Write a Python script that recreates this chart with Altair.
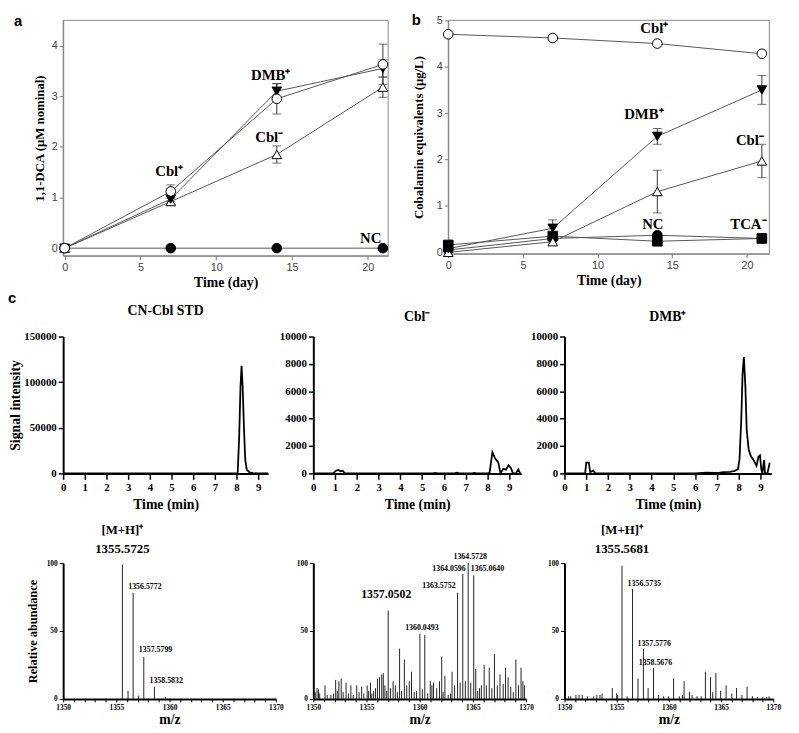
import altair as alt
import pandas as pd

SERIF = "Liberation Serif"
SANS = "Liberation Sans"

# ---------------- data : panel a ----------------
days = [0, 7, 14, 21]
a_nc = [0.0, 0.0, 0.0, 0.0]
a_cbl_minus = [0.0, 0.92, 1.85, 3.18]
a_cbl_minus_err = [0.0, 0.07, 0.17, 0.20]
a_dmb_plus = [0.0, 0.97, 3.10, 3.55]
a_dmb_plus_err = [0.0, 0.05, 0.15, 0.17]
a_cbl_plus = [0.0, 1.12, 2.95, 3.63]
a_cbl_plus_err = [0.0, 0.13, 0.30, 0.40]
a_label_text = ["Cbl\u207a", "DMB\u207a", "Cbl\u207b", "NC"]
a_label_day = [6.9, 13.6, 13.5, 20.2]
a_label_val = [1.52, 3.42, 2.2, 0.2]

# ---------------- data : panel b ----------------
b_nc = [0.05, 0.30, 0.37, 0.30]
b_tca_minus = [0.16, 0.35, 0.24, 0.30]
b_cbl_minus = [0.0, 0.23, 1.31, 1.97]
b_cbl_minus_err = [0.0, 0.03, 0.46, 0.36]
b_dmb_plus = [0.08, 0.52, 2.50, 3.50]
b_dmb_plus_err = [0.0, 0.18, 0.17, 0.31]
b_cbl_plus = [4.70, 4.62, 4.50, 4.28]
b_label_text = ["Cbl\u207a", "DMB\u207a", "Cbl\u207b", "NC", "TCA\u207b"]
b_label_day = [13.8, 13.1, 20.2, 13.7, 20.1]
b_label_val = [4.83, 2.99, 2.43, 0.60, 0.60]

# ---------------- data : chromatograms ----------------
std_t = [0, 7.9, 8.05, 8.12, 8.18, 8.23, 8.28, 8.34, 8.40, 8.47, 8.6, 8.75, 9.0, 9.45]
std_v = [0, 0, 0, 40000, 95000, 118000, 95000, 50000, 15000, 4000, 1200, 300, 0, 0]

cblm_t = [0, 0.9, 1.05, 1.15, 1.25, 1.35, 1.45, 5.5, 5.6, 5.7, 6.5, 6.6, 6.7, 7.3, 7.4, 7.5,
          8.0, 8.1, 8.23, 8.35, 8.5, 8.6, 8.73, 8.85, 8.97, 9.08, 9.17, 9.3, 9.42, 9.5]
cblm_v = [0, 0, 200, 250, 150, 200, 0, 0, 40, 0, 0, 50, 0, 0, 40, 0,
          0, 50, 1550, 1100, 800, 0, 330, 270, 600, 400, 0, 0, 300, 0]

dmb_t = [0, 0.95, 1.0, 1.12, 1.18, 1.25, 1.32, 1.42, 6.0, 6.5, 7.0, 7.3, 7.6, 7.82, 7.97,
         8.04, 8.12, 8.18, 8.24, 8.31, 8.37, 8.46, 8.56, 8.71, 8.82, 8.91, 8.98, 9.04, 9.09,
         9.17, 9.21, 9.32, 9.43]
dmb_v = [0, 0, 790, 790, 100, 150, 200, 0, 0, 50, 30, 100, 120, 190, 310,
         1030, 3900, 7270, 8500, 6300, 3190, 1750, 1270, 910, 550, 1220, 1320, 310, 0,
         980, 0, 0, 790]

# ---------------- data : mass spectra ----------------
s1_mz = [1355.57, 1356.1, 1356.58, 1357.1, 1357.58, 1358.58, 1359.6]
s1_int = [99, 6, 78, 2.5, 31, 9, 1.5]

s2_mz = [1350.18, 1350.35, 1350.49, 1350.6, 1351.1, 1351.3, 1351.65, 1351.9, 1352.1, 1352.25,
         1352.4, 1352.62, 1352.8, 1353.08, 1353.3, 1353.53, 1353.75, 1354.08, 1354.3, 1354.54,
         1354.75, 1355.06, 1355.2, 1355.37, 1355.5, 1355.67, 1355.85, 1356.03, 1356.22, 1356.43,
         1356.58, 1356.73, 1356.9, 1357.04, 1357.25, 1357.5, 1357.71, 1357.9, 1358.11, 1358.3,
         1358.56, 1358.78, 1359.02, 1359.23, 1359.48, 1359.7, 1360.02, 1360.25, 1360.48, 1360.75,
         1361.0, 1361.15, 1361.3, 1361.6, 1361.86, 1362.07, 1362.2, 1362.37, 1362.68, 1362.9,
         1363.04, 1363.28, 1363.56, 1363.8, 1364.05, 1364.29, 1364.56, 1364.8, 1365.08, 1365.27,
         1365.45, 1365.63, 1365.8, 1366.06, 1366.27, 1366.54, 1366.79, 1367.03, 1367.3, 1367.55,
         1367.85, 1368.07, 1368.31, 1368.56, 1368.8, 1369.04, 1369.29, 1369.53, 1369.7, 1369.85]
s2_int = [5, 8, 7, 4, 10, 3, 3, 4, 14, 6,
          13, 15, 5, 12, 4, 10, 3, 10, 5, 9,
          4, 10, 6, 12, 4, 6, 8, 15, 16, 18,
          19, 10, 6, 65, 8, 13, 10, 5, 37, 6,
          29, 10, 13, 20, 5, 6, 48, 7, 47, 4,
          13, 10, 12, 8, 13, 31, 5, 17, 3, 4,
          20, 10, 78, 12, 92, 13, 100, 12, 91, 22,
          6, 8, 10, 25, 10, 23, 8, 33, 10, 18,
          11, 23, 16, 9, 5, 29, 10, 23, 13, 10]

s3_mz = [1350.4, 1350.6, 1351.1, 1351.4, 1351.7, 1352.2, 1352.8, 1353.1, 1353.4, 1353.6,
         1354.58, 1355.0, 1355.1, 1355.51, 1356.0, 1356.52, 1357.04, 1357.56, 1358.01, 1358.53,
         1359.02, 1359.5, 1359.95, 1360.45, 1361.0, 1361.3, 1361.46, 1361.97, 1362.22, 1362.7,
         1363.1, 1363.5, 1363.99, 1364.2, 1364.5, 1364.96, 1365.48, 1366.03, 1366.48, 1367.0,
         1367.49, 1368.0, 1368.47, 1369.0, 1369.38, 1369.6]
s3_int = [2, 2, 3, 3, 3, 2, 2, 3, 3, 4,
          8, 4, 3, 98, 2, 81, 15, 37, 8, 23,
          3, 2, 2, 15, 2, 3, 13, 5, 3, 2,
          2, 20, 16, 5, 19, 6, 10, 4, 8, 3,
          9, 2, 1.5, 1.5, 1.5, 2]

# ---------------- helpers ----------------
def box_layer(x1, x2, y1, y2):
    # invisible layout box that fixes each panel's footprint in the grid
    return alt.Chart(pd.DataFrame({"k": [0]})).mark_rect(opacity=0).encode(
        x=alt.value(x1), x2=alt.value(x2), y=alt.value(y1), y2=alt.value(y2))


def frame_layer(w, h):
    return alt.Chart(pd.DataFrame({"k": [0]})).mark_rect(
        fillOpacity=0, stroke="#888", strokeWidth=1).encode(
        x=alt.value(0), x2=alt.value(w), y=alt.value(0), y2=alt.value(h))


def pix_text(txt, x, y, font, size, align="left", baseline="top"):
    return alt.Chart(pd.DataFrame({"t": [txt]})).mark_text(
        align=align, baseline=baseline, font=font, fontWeight="bold", fontSize=size, color="black"
    ).encode(text="t:N", x=alt.value(x), y=alt.value(y))


SHAPE_DOM = ["Cbl+", "DMB+", "Cbl-", "NC", "TCA-"]
SHAPE_RNG = ["circle", "triangle-down", "triangle-up", "circle", "square"]
FILL_RNG = ["white", "black", "white", "black", "black"]


def growth_panel(series, lab, xdom, ydom, yvals, w, h, ytitle, ytpad, box, letter, lxy):
    rows = []
    for name, vals, errs in series:
        for d, v, e in zip(days, vals, errs):
            rows.append(dict(series=name, day=d, value=v, lo=v - e, hi=v + e, err=e))
    df = pd.DataFrame(rows)
    ldf = pd.DataFrame({"label": lab[0], "day": lab[1], "value": lab[2]})
    xs = alt.Scale(domain=xdom, nice=False, zero=False)
    ys = alt.Scale(domain=ydom, nice=False, zero=False)
    xax = alt.Axis(values=[0, 5, 10, 15, 20], title="Time (day)", titleFont=SERIF, titleFontSize=14,
                   titleFontWeight="bold", titleColor="black", titlePadding=3, labelFont=SANS,
                   labelFontSize=11, labelColor="#444", labelPadding=2, tickSize=4, tickColor="#777",
                   domainColor="#777", grid=False, labelFlush=False, labelOverlap=False)
    yax = alt.Axis(values=yvals, title=ytitle, titleFont=SERIF, titleFontSize=13,
                   titleFontWeight="bold", titleColor="black", titlePadding=ytpad, labelFont=SANS,
                   labelFontSize=11, labelColor="#444", labelPadding=2, tickSize=4, tickColor="#777",
                   domainColor="#777", grid=False, labelFlush=False, labelOverlap=False)

    def X(f):
        return alt.X(f + ":Q", scale=xs, axis=xax)

    def Y(f):
        return alt.Y(f + ":Q", scale=ys, axis=yax)

    base = alt.Chart(df)
    lines = base.mark_line(color="#555", strokeWidth=1).encode(x=X("day"), y=Y("value"), detail="series:N")
    eb = base.transform_filter("datum.err > 0")
    rules = eb.mark_rule(color="#333", strokeWidth=1).encode(x=X("day"), y=Y("lo"), y2="hi:Q")
    cap_hi = eb.mark_tick(orient="horizontal", size=9, thickness=1, color="#333").encode(x=X("day"), y=Y("hi"))
    cap_lo = eb.mark_tick(orient="horizontal", size=9, thickness=1, color="#333").encode(x=X("day"), y=Y("lo"))
    pts = base.mark_point(filled=True, stroke="black", strokeWidth=1, opacity=1, size=95).encode(
        x=X("day"), y=Y("value"),
        shape=alt.Shape("series:N", scale=alt.Scale(domain=SHAPE_DOM, range=SHAPE_RNG), legend=None),
        fill=alt.Fill("series:N", scale=alt.Scale(domain=SHAPE_DOM, range=FILL_RNG), legend=None))
    labels = alt.Chart(ldf).mark_text(font=SERIF, fontSize=15, fontWeight="bold", color="black").encode(
        x=X("day"), y=Y("value"), text="label:N")
    return alt.layer(box_layer(*box), frame_layer(w, h), lines, rules, cap_hi, cap_lo, pts, labels,
                     pix_text(letter, lxy[0], lxy[1], SANS, 15)).properties(width=w, height=h)


def chrom_panel(t, v, xmax, ymax, yvals, w, h, title, toff, ytitle, box, letter=None):
    df = pd.DataFrame({"t": t, "v": v})
    xs = alt.Scale(domain=[0, xmax], nice=False, zero=False)
    ys = alt.Scale(domain=[0, ymax], nice=False)
    xax = alt.Axis(values=list(range(10)), format="d", title="Time (min)", titleFont=SERIF,
                   titleFontSize=14, titleFontWeight="bold", titleColor="black", titlePadding=6,
                   labelFont=SERIF, labelFontSize=11, labelFontWeight="bold", labelColor="black",
                   labelPadding=2, tickSize=6, tickWidth=1.5, tickColor="black", domainColor="black",
                   domainWidth=2, grid=False, labelFlush=False, labelOverlap=False)
    yax = alt.Axis(values=yvals, format="d", title=ytitle, titleFont=SERIF, titleFontSize=14,
                   titleFontWeight="bold", titleColor="black", titlePadding=1, labelFont=SERIF,
                   labelFontSize=11, labelFontWeight="bold", labelColor="black", labelPadding=2,
                   tickSize=5, tickWidth=1.5, tickColor="black", domainColor="black", domainWidth=2,
                   grid=False, labelFlush=False, labelOverlap=False)
    line = alt.Chart(df).mark_line(color="black", strokeWidth=1.8).encode(
        x=alt.X("t:Q", scale=xs, axis=xax), y=alt.Y("v:Q", scale=ys, axis=yax))
    layers = [box_layer(*box), line,
              pix_text(title, w / 2, -toff, SERIF, 14, align="center", baseline="bottom")]
    if letter:
        layers.append(pix_text(letter[0], letter[1], letter[2], SANS, 15))
    return alt.layer(*layers).properties(width=w, height=h)


def spectrum_panel(mz, inten, w, box, ytitle, annots, header):
    df = pd.DataFrame({"mz": mz, "h": inten, "z": [0] * len(mz)})
    xs = alt.Scale(domain=[1350, 1370], nice=False, zero=False)
    ys = alt.Scale(domain=[0, 100], nice=False)
    xax = alt.Axis(values=list(range(1350, 1371)), format="d",
                   labelExpr="datum.value % 5 == 0 ? datum.label : ''", title="m/z", titleFont=SERIF,
                   titleFontSize=14, titleFontWeight="bold", titleColor="black", titlePadding=1,
                   labelFont=SERIF, labelFontSize=7.5, labelFontWeight="bold", labelColor="black",
                   labelPadding=2, tickSize=3, tickWidth=1, tickColor="black", domainColor="black",
                   domainWidth=2, grid=False, labelFlush=False, labelOverlap=False)
    yax = alt.Axis(values=[0, 50, 100], format="d", title=ytitle, titleFont=SERIF, titleFontSize=12.5,
                   titleFontWeight="bold", titleColor="black", titlePadding=7, labelFont=SERIF,
                   labelFontSize=7.5, labelFontWeight="bold", labelColor="black", labelPadding=2,
                   tickSize=4, tickWidth=1, tickColor="black", domainColor="black", domainWidth=2,
                   grid=False, labelFlush=False, labelOverlap=False)

    def X(f):
        return alt.X(f + ":Q", scale=xs, axis=xax)

    def Y(f):
        return alt.Y(f + ":Q", scale=ys, axis=yax)

    bars = alt.Chart(df).mark_rule(color="#222", strokeWidth=1).encode(x=X("mz"), y=Y("h"), y2="z:Q")
    layers = [box_layer(*box), bars]
    for (txt, amz, ah, dx, dy, align, size) in annots:
        adf = pd.DataFrame({"label": [txt], "mz": [amz], "h": [ah]})
        layers.append(alt.Chart(adf).mark_text(
            font=SERIF, fontSize=size, fontWeight="bold", color="black", align=align,
            baseline="bottom", dx=dx, dy=dy).encode(x=X("mz"), y=Y("h"), text="label:N"))
    if header:
        hmz, lines = header
        for txt, yy in lines:
            hdf = pd.DataFrame({"label": [txt], "mz": [hmz]})
            layers.append(alt.Chart(hdf).mark_text(
                font=SERIF, fontSize=13, fontWeight="bold", color="black", align="center",
                baseline="middle").encode(x=X("mz"), y=alt.value(yy), text="label:N"))
    return alt.layer(*layers).properties(width=w, height=h_spec)


h_spec = 138

# ---------------- panels ----------------
pa = growth_panel(
    [("NC", a_nc, [0, 0, 0, 0]), ("Cbl-", a_cbl_minus, a_cbl_minus_err),
     ("DMB+", a_dmb_plus, a_dmb_plus_err), ("Cbl+", a_cbl_plus, a_cbl_plus_err)],
    (a_label_text, a_label_day, a_label_val), [-0.1, 21.35], [-0.15, 4.5], [0, 1, 2, 3, 4],
    330, 239, "1,1-DCA (\u03bcM nominal)", 5, (-50, 342, -6, 275), "a", (-50, -6))

pb = growth_panel(
    [("NC", b_nc, [0, 0, 0, 0]), ("TCA-", b_tca_minus, [0, 0, 0, 0]),
     ("Cbl-", b_cbl_minus, b_cbl_minus_err), ("DMB+", b_dmb_plus, b_dmb_plus_err),
     ("Cbl+", b_cbl_plus, [0, 0, 0, 0])],
    (b_label_text, b_label_day, b_label_val), [0, 21.5], [-0.03, 5], [0, 1, 2, 3, 4, 5],
    326, 237, "Cobalamin equivalents (\u03bcg/L)", 11, (-49, 348, -7, 274), "b", (-37, -7))

c1 = chrom_panel(std_t, std_v, 9.45, 150000, [0, 50000, 100000, 150000], 208, 139,
                 "CN-Cbl STD", 19, "Signal intensity", (-56, 214, -46, 180), ("c", -56, -46))
c2 = chrom_panel(cblm_t, cblm_v, 9.55, 10000, [0, 2000, 4000, 6000, 8000, 10000], 211, 139,
                 "Cbl\u207b", 13, None, (-40, 216, -46, 180))
c3 = chrom_panel(dmb_t, dmb_v, 9.5, 10000, [0, 2000, 4000, 6000, 8000, 10000], 210, 139,
                 "DMB\u207a", 13, None, (-39, 224, -46, 180))

s1 = spectrum_panel(
    s1_mz, s1_int, 216, (-56, 228, -50, 160), "Relative abundance",
    [("1356.5772", 1356.58, 78, -5, -2, "left", 8),
     ("1357.5799", 1357.58, 31, -5, -3, "left", 8),
     ("1358.5832", 1358.58, 9, -5, -2, "left", 8)],
    (1355.57, [("[M+H]\u207a", -33), ("1355.5725", -14)]))
s2 = spectrum_panel(
    s2_mz, s2_int, 216, (-26, 230, -50, 160), None,
    [("1357.0502", 1357.04, 65, -2, -10, "center", 12),
     ("1360.0493", 1360.02, 48, 2, -2, "center", 8),
     ("1363.5752", 1363.56, 78, -2, -3, "right", 8),
     ("1364.0596", 1364.05, 92, 3, -1, "right", 8),
     ("1364.5728", 1364.56, 100, 2, -2, "center", 8),
     ("1365.0640", 1365.08, 91, -3, -2, "left", 8)],
    None)
s3 = spectrum_panel(
    s3_mz, s3_int, 212, (-25, 224, -50, 160), None,
    [("1356.5735", 1356.52, 81, -5, -1, "left", 8),
     ("1357.5776", 1357.56, 37, -6, -1, "left", 8),
     ("1358.5676", 1358.53, 23, -15, -1, "left", 8)],
    (1355.51, [("[M+H]\u207a", -33), ("1355.5681", -14)]))

ind = dict(x="independent", y="independent", shape="independent", fill="independent")
row1 = alt.hconcat(pa, pb, spacing=0).resolve_scale(**ind)
row2 = alt.hconcat(c1, c2, c3, spacing=0).resolve_scale(x="independent", y="independent")
row3 = alt.hconcat(s1, s2, s3, spacing=0).resolve_scale(x="independent", y="independent")

chart = alt.vconcat(row1, row2, row3, spacing=0).resolve_scale(
    x="independent", y="independent").properties(padding=0, background="white").configure_view(stroke=None)

chart.save("out.html", embed_options={"renderer": "svg", "actions": False})
